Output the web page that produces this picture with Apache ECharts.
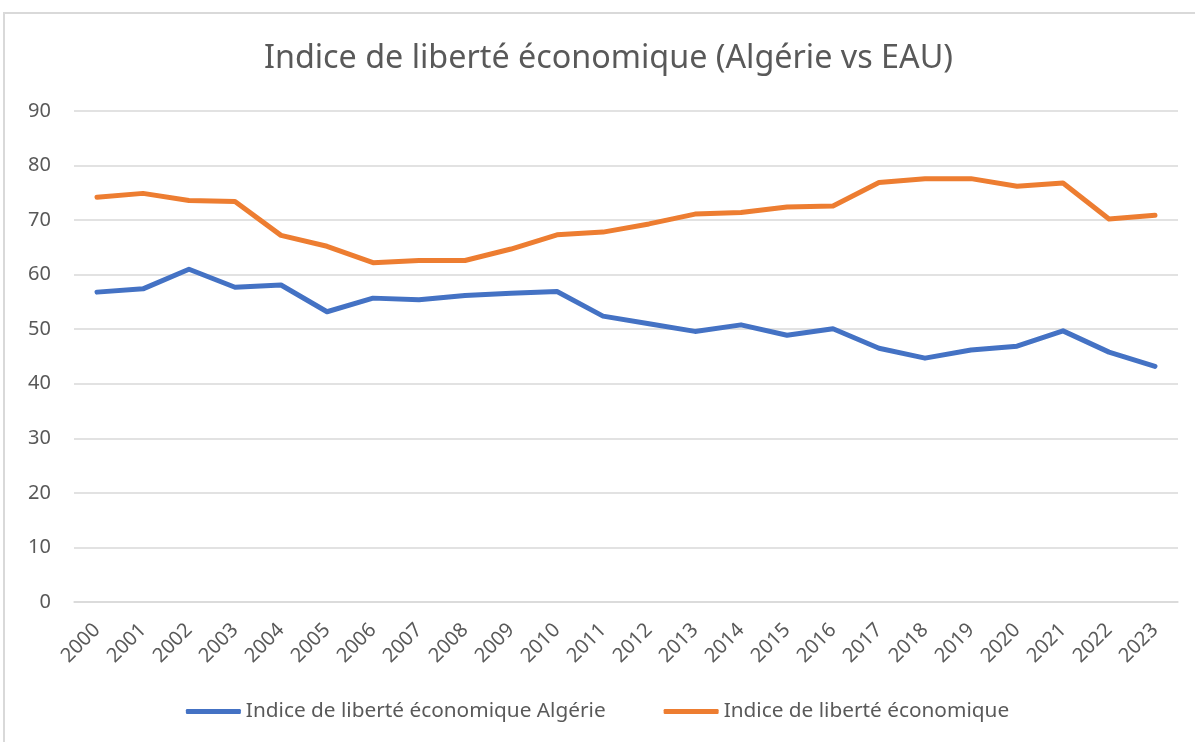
<!DOCTYPE html>
<html>
<head>
<meta charset="utf-8">
<title>Indice de liberté économique</title>
<script src="https://cdn.jsdelivr.net/npm/echarts@6/dist/echarts.min.js"></script>
<style>
html,body{margin:0;padding:0;background:#fff;}
#chart{width:1195px;height:742px;}
</style>
</head>
<body>
<div id="chart"></div>
<script>
// données
var years = ['2000','2001','2002','2003','2004','2005','2006','2007','2008','2009','2010','2011',
    '2012','2013','2014','2015','2016','2017','2018','2019','2020','2021','2022','2023'];
var algerie = [56.8,57.4,61.0,57.7,58.1,53.2,55.7,55.4,56.2,56.6,56.9,52.4,
    51.0,49.6,50.8,48.9,50.1,46.5,44.7,46.2,46.9,49.7,45.8,43.2];
var eau = [74.2,74.9,73.6,73.4,67.2,65.2,62.2,62.6,62.6,64.7,67.3,67.8,
    69.3,71.1,71.4,72.4,72.6,76.9,77.6,77.6,76.2,76.8,70.2,70.9];
var yTicks = [0,10,20,30,40,50,60,70,80,90];

var titre = 'Indice de liberté économique (Algérie vs EAU)';
var nomAlgerie = 'Indice de liberté économique Algérie';
var nomEau = 'Indice de liberté économique';

var font = 'Noto Sans';
var grey = '#595959';

var chart = echarts.init(document.getElementById('chart'));
chart.setOption({
    animation:false,
    backgroundColor:'#fff',
    graphic:[{
        type:'rect',
        shape:{x:4,y:13,width:1220,height:800},
        style:{fill:null,stroke:'#d9d9d9',lineWidth:2}
    }],
    title:{
        text:titre,
        left:259,
        top:38,
        textStyle:{fontFamily:font,fontSize:32.3,fontWeight:'normal',color:grey}
    },
    legend:{
        data:[nomAlgerie,nomEau],
        bottom:15,
        left:'center',
        icon:'roundRect',
        itemWidth:55,
        itemHeight:5,
        itemGap:58,
        textStyle:{fontFamily:font,fontSize:20.8,color:grey}
    },
    grid:{left:74,right:17,top:111,bottom:140,outerBoundsMode:'none'},
    xAxis:{
        type:'category',
        data:years,
        boundaryGap:true,
        axisLine:{lineStyle:{color:'#d9d9d9',width:1.5}},
        axisTick:{show:false},
        axisLabel:{rotate:45,margin:25,fontFamily:font,fontSize:20,color:grey}
    },
    yAxis:{
        type:'value',
        min:yTicks[0],
        max:yTicks[yTicks.length-1],
        interval:10,
        axisLine:{show:false},
        axisTick:{show:false},
        axisLabel:{margin:23,fontFamily:font,fontSize:20,color:grey},
        splitLine:{lineStyle:{color:'#d9d9d9',width:1.5}}
    },
    series:[
        {name:nomAlgerie,type:'line',data:algerie,showSymbol:false,symbol:'none',
            lineStyle:{color:'#4472C4',width:5,join:'round',cap:'round'},itemStyle:{color:'#4472C4'}},
        {name:nomEau,type:'line',data:eau,showSymbol:false,symbol:'none',
            lineStyle:{color:'#ED7D31',width:5,join:'round',cap:'round'},itemStyle:{color:'#ED7D31'}}
    ]
});
</script>
</body>
</html>
